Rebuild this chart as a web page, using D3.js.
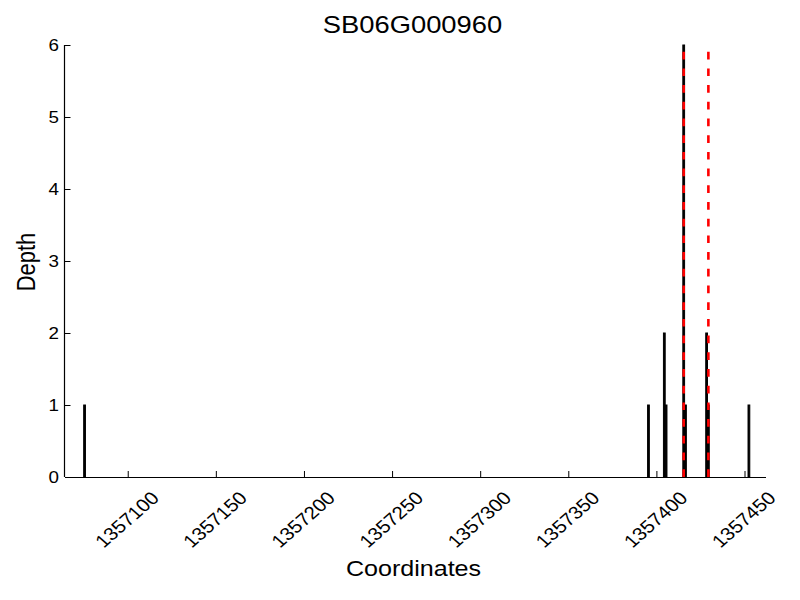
<!DOCTYPE html>
<html>
<head>
<meta charset="utf-8">
<script src="https://cdn.jsdelivr.net/npm/d3@7"></script>
<style>
  html, body { margin: 0; padding: 0; background: #fff; }
  svg { display: block; font-family: "Liberation Sans", Arial, Helvetica, sans-serif; }
</style>
</head>
<body>
<svg id="chart" width="800" height="600"></svg>
<script>
// ---- data ----
const titleText = "SB06G000960";
const xLabel = "Coordinates";
const yLabel = "Depth";
const positions = [1357075, 1357395, 1357404, 1357405, 1357415, 1357416, 1357428, 1357429, 1357452];
const depths    = [1, 1, 2, 1, 6, 1, 2, 1, 1];
const sites     = [1357415, 1357429];           // red dashed markers
const xTicks    = [1357100, 1357150, 1357200, 1357250, 1357300, 1357350, 1357400, 1357450];
const yTicks    = [0, 1, 2, 3, 4, 5, 6];
const xDomain   = [1357064.4, 1357462.2];
const yDomain   = [0, 6];

(function () {
// ---- layout ----
const mLeft = 65, mRight = 766, mTop = 45, mBottom = 477;
const sx = 1.14; // horizontal text stretch seen in the reference

const svg = d3.select("#chart");
const x = d3.scaleLinear().domain(xDomain).range([mLeft, mRight]);
const y = d3.scaleLinear().domain(yDomain).range([mBottom, mTop]);

const bars = positions.map((p, i) => ({ pos: p, depth: depths[i] }));

// bars (each covers one base)
svg.append("g").selectAll("rect").data(bars).enter().append("rect")
  .attr("x", d => x(d.pos))
  .attr("width", d => x(d.pos + 1) - x(d.pos))
  .attr("y", d => y(d.depth))
  .attr("height", d => y(0) - y(d.depth))
  .attr("fill", "#000")
  .attr("stroke", "#000")
  .attr("stroke-width", 1);

// red dashed site markers
svg.append("g").selectAll("line").data(sites).enter().append("line")
  .attr("x1", d => x(d + 0.5)).attr("x2", d => x(d + 0.5))
  .attr("y1", y(yDomain[1])).attr("y2", y(0))
  .attr("stroke", "#ff0000")
  .attr("stroke-width", 2.6)
  .attr("stroke-dasharray", "7.7 9")
  .attr("stroke-dashoffset", 10);

// axes (ticks pointing inward)
const xAxis = d3.axisBottom(x).tickValues(xTicks).tickSize(-6).tickFormat(() => "");
const yAxis = d3.axisLeft(y).tickValues(yTicks).tickSize(-5.5).tickFormat(() => "");

const gx = svg.append("g").attr("transform", `translate(0,${mBottom})`).call(xAxis);
gx.select(".domain").attr("d", `M${mLeft},0.5H${mRight}`).attr("stroke", "#000").attr("stroke-width", 1.2);
gx.selectAll(".tick line").attr("stroke", "#000");

const gy = svg.append("g").attr("transform", `translate(${mLeft},0)`).call(yAxis);
gy.select(".domain").attr("d", `M-0.5,${mTop}V${mBottom}`).attr("stroke", "#000").attr("stroke-width", 1.2);
gy.selectAll(".tick line").attr("stroke", "#000");

// y tick labels
svg.append("g").selectAll("text").data(yTicks).enter().append("text")
  .attr("transform", d => `translate(59,${y(d)}) scale(${sx},1)`)
  .attr("text-anchor", "end")
  .attr("dy", "0.36em")
  .attr("font-size", 16.5)
  .attr("fill", "#000")
  .text(d => d);

// x tick labels (rotated 45°, bbox centred on tick)
const fs = 18;
svg.append("g").selectAll("text").data(xTicks).enter().append("text")
  .attr("text-anchor", "middle")
  .attr("dy", "0.36em")
  .attr("font-size", fs)
  .attr("fill", "#000")
  .text(d => d3.format("d")(d))
  .each(function(d) {
    const L = this.getComputedTextLength();
    const H = fs * 0.72;
    const half = (L + H) / (2 * Math.SQRT2);
    d3.select(this).attr("transform",
      `translate(${x(d) - 1},${mBottom + 13 + half}) scale(${sx},1) rotate(-45)`);
  });

// title
svg.append("text")
  .attr("transform", `translate(${(mLeft + mRight) / 2 - 3},33) scale(${sx},1)`)
  .attr("text-anchor", "middle")
  .attr("font-size", 24)
  .attr("fill", "#000")
  .text(titleText);

// x label
svg.append("text")
  .attr("transform", `translate(${(mLeft + mRight) / 2 - 2},576) scale(${sx},1)`)
  .attr("text-anchor", "middle")
  .attr("font-size", 22)
  .attr("fill", "#000")
  .text(xLabel);

// y label
svg.append("text")
  .attr("transform", `translate(35,262) scale(${sx},1) rotate(-90)`)
  .attr("text-anchor", "middle")
  .attr("font-size", 22)
  .attr("fill", "#000")
  .text(yLabel);
})();
</script>
</body>
</html>
